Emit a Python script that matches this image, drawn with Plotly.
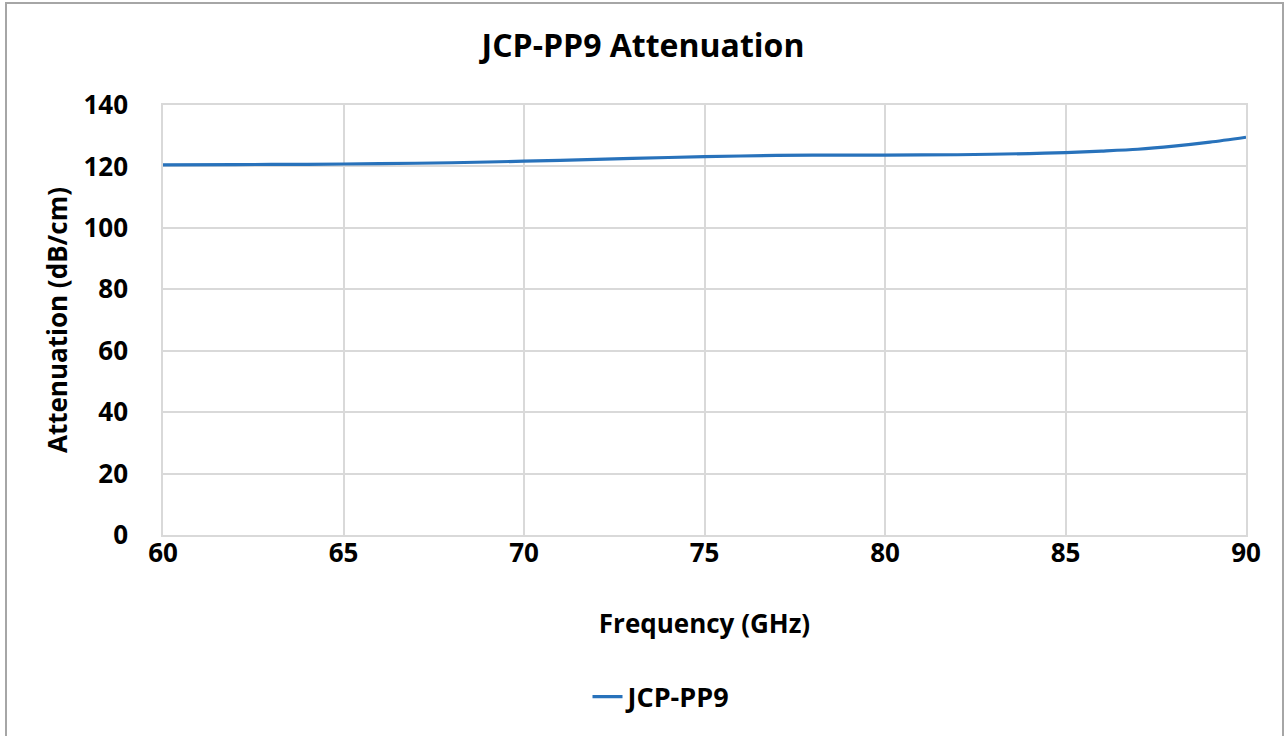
import plotly.graph_objects as go

freq_ghz = [60, 62, 64, 66, 68, 70, 72, 74, 76, 78, 80, 82, 84, 85, 86, 87, 88, 89, 90]
attenuation_db_cm = [120.5, 120.6, 120.7, 120.9, 121.2, 121.7, 122.3, 122.9, 123.4, 123.7,
                     123.7, 123.8, 124.2, 124.5, 125.0, 125.6, 126.6, 127.9, 129.5]
x_ticks = [60, 65, 70, 75, 80, 85, 90]
y_ticks = [0, 20, 40, 60, 80, 100, 120, 140]
series_name = "JCP-PP9"

FONT = "Open Sans"
W, H = 1286, 736
L, R, T, B = 163, 1246, 105, 535

fig = go.Figure()
fig.add_trace(go.Scatter(
    x=freq_ghz, y=attenuation_db_cm, mode="lines", name=f"<b>{series_name}</b>",
    line=dict(color="#2872bb", width=3.2, shape="spline", smoothing=0.8),
))

pw = R - L
ph = B - T
def px_x(p):
    return (p - L) / pw
def px_y(p):
    return (B - p) / ph

fig.update_layout(
    width=W, height=H,
    margin=dict(l=L, r=W - R, t=T, b=H - B),
    paper_bgcolor="white", plot_bgcolor="white",
    font=dict(family=FONT, color="#000000"),
    title=dict(text="<b>JCP-PP9 Attenuation</b>", x=0.5, xanchor="center",
               y=1 - 46 / H, yanchor="middle", font=dict(size=32, family=FONT, color="#000")),
    xaxis=dict(range=[60, 90], tickvals=x_ticks, ticktext=[f"<b>{v}</b>" for v in x_ticks],
               showgrid=True, gridcolor="#d9d9d9", gridwidth=1.5,
               showline=True, linecolor="#d9d9d9", linewidth=1.5, mirror=True,
               zeroline=False, ticks="", tickfont=dict(size=26, family=FONT),
               ticklabelstandoff=-6,
               title=dict(text="<b>Frequency (GHz)</b>", font=dict(size=26, family=FONT), standoff=46)),
    yaxis=dict(range=[0, 140], tickvals=y_ticks, ticktext=[f"<b>{v}</b>" for v in y_ticks],
               showgrid=True, gridcolor="#d9d9d9", gridwidth=1.5,
               showline=True, linecolor="#d9d9d9", linewidth=1.5, mirror=True,
               zeroline=False, ticks="", tickfont=dict(size=26, family=FONT),
               ticklabelstandoff=28,
               title=dict(text="<b>Attenuation (dB/cm)</b>", font=dict(size=26, family=FONT), standoff=8)),
    showlegend=True,
    legend=dict(orientation="h", x=px_x(662), xanchor="center", y=px_y(697), yanchor="middle",
                font=dict(size=27, family=FONT)),
    shapes=[dict(type="rect", xref="paper", yref="paper",
                 x0=px_x(6), x1=px_x(1283), y0=px_y(738), y1=px_y(3),
                 line=dict(color="#a6a6a6", width=2), fillcolor="rgba(0,0,0,0)", layer="below")],
)

fig.write_html("out.html", config={"displayModeBar": False},
               post_script="document.body.style.margin='0';")
